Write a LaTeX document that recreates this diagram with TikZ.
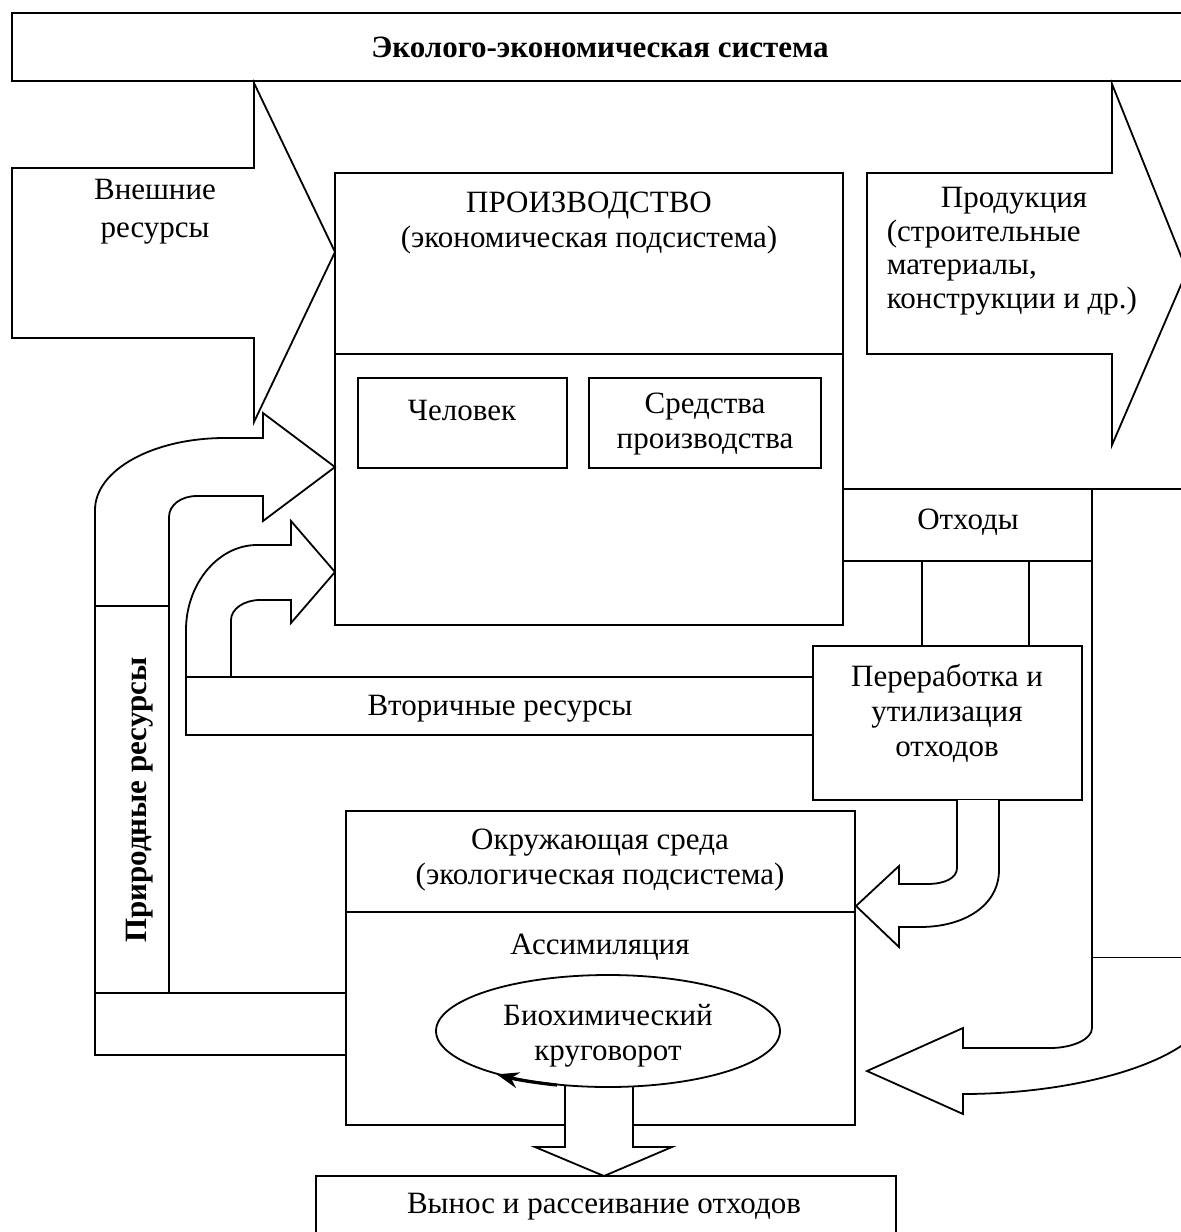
\documentclass[tikz,border=0pt]{standalone}
\usepackage{fontspec}
\setmainfont{Liberation Serif}
\usetikzlibrary{arrows.meta}
\begin{document}
\begin{tikzpicture}[x=0.5pt,y=-0.5pt,line width=0.9pt,line join=miter,
  blk/.style={draw=black,fill=white},
  lbl/.style={inner sep=0pt,align=center,yshift=-1.5pt,font=\fontsize{15.5}{17.5}\selectfont},
  blbl/.style={inner sep=0pt,align=center,font=\fontsize{15.5}{17.5}\selectfont\bfseries}]
\path[use as bounding box] (0,0) rectangle (1181,1232);
\clip (0,0) rectangle (1181,1232);
% title
\draw[blk] (12,13) rectangle (1210,81);
\node[blbl,yshift=-1pt] (title) at (600,45) {Эколого-экономическая система};
% external resources arrow
\path[blk] (12,168) -- (254,168) -- (254,83) -- (335,252) -- (254,422) -- (254,338) -- (12,338) -- cycle;
\node[lbl,font=\fontsize{15.5}{19}\selectfont] (ext) at (155,209) {Внешние\\ресурсы};
% product arrow
\path[blk] (867,173) -- (1112,173) -- (1112,84) -- (1187,271) -- (1112,445) -- (1112,354) -- (867,354) -- cycle;
\node[lbl,align=left,anchor=west,font=\fontsize{15.5}{16.8}\selectfont] (prod) at (886,248) {\hspace*{27pt}Продукция\\(строительные\\материалы,\\конструкции и др.)};
% production box
\draw[blk] (335,173) rectangle (843,625);
\draw (335,354) -- (843,354);
\node[lbl] (proizv) at (589,220) {ПРОИЗВОДСТВО\\(экономическая подсистема)};
\draw[blk] (358,378) rectangle (567,468);
\node[lbl] (man) at (462,407) {Человек};
\draw[blk] (589,378) rectangle (821,468);
\node[lbl] (means) at (705,421) {Средства\\производства};
% wastes
\draw[blk] (843,489) rectangle (1092,561);
\node[lbl] (waste) at (968,519) {Отходы};
\draw[blk] (1092,489) rectangle (1210,958);
\draw (922,561) -- (922,646) (1029,561) -- (1029,646);
% processing box
\draw[blk] (813,646) rectangle (1082,800);
\node[lbl] (proc) at (947,710) {Переработка и\\утилизация\\отходов};
% curved arrows into production
\path[blk] (95,606) -- (95,510) .. controls (95,470) and (153,438) .. (225,438) -- (263,438) -- (263,413) -- (335,467) -- (263,521) -- (263,496) -- (197,496) .. controls (181,496) and (169,505) .. (169,517) -- (169,606);
\path[blk] (186,677) -- (186,630) .. controls (186,584) and (218,545) .. (257,545) -- (291,545) -- (291,521) -- (335,572) -- (291,623) -- (291,600) -- (260,600) .. controls (244,600) and (231,609) .. (231,620) -- (231,677);
% secondary resources
\draw[blk] (186,677) rectangle (813,735);
\node[lbl] (sec) at (500,706) {Вторичные ресурсы};
% natural resources
\draw[blk] (95,993) rectangle (346,1055);
\draw[blk] (95,606) rectangle (169,993);
\node[blbl,rotate=90] (nat) at (140,800) {Природные ресурсы};
% environment
\draw[blk] (346,811) rectangle (855,1125);
\draw (346,912) -- (855,912);
\node[lbl] (env) at (600,857) {Окружающая среда\\(экологическая подсистема)};
\node[lbl] (assim) at (600,944) {Ассимиляция};
% discharge box and down arrow
\draw[blk] (316,1176) rectangle (896,1260);
\node[lbl] (out) at (604,1204) {Вынос и рассеивание отходов};
\path[blk] (565,1086) -- (565,1147) -- (535,1147) -- (604,1176) -- (672,1147) -- (633,1147) -- (633,1086);
\draw[blk] (608,1031) ellipse [x radius=172, y radius=56];
\node[lbl] (bio) at (608,1033) {Биохимический\\круговорот};
\draw[line width=1.6pt,-{Stealth[length=11pt,width=8pt]}] (557,1085) arc[start angle=107,end angle=130,x radius=172,y radius=56];
% processing -> environment
\path[blk] (957,800) -- (957,868) .. controls (957,878) and (945,884) .. (927,884) -- (899,884) -- (899,866) -- (856,906) -- (899,947) -- (899,927) -- (920,927) .. controls (965,927) and (999,905) .. (999,870) -- (999,800);
% big right return arrow
\path[blk] (1092,958) -- (1092,1028) .. controls (1092,1039) and (1073,1048) .. (1050,1048) -- (963,1048) -- (963,1028) -- (867,1071) -- (963,1114) -- (963,1094) .. controls (1080,1094) and (1200,1060) .. (1210,1010) -- (1210,958);
\end{tikzpicture}
\end{document}
